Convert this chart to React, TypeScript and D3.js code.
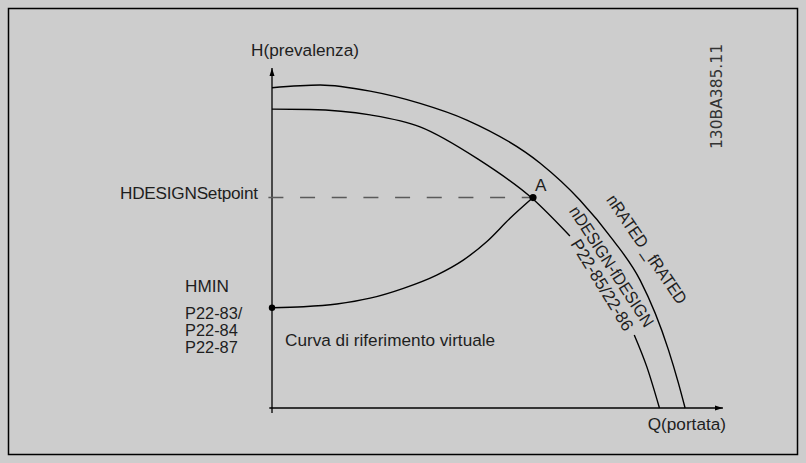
import { useEffect, useRef } from "react";
import * as d3 from "d3";

// pump curves, Q (flow) vs H (head) in % of axis length
const ratedQ = [0, 10.7, 21.8, 32.9, 43.3, 59.6, 68.4, 75.8, 81.8, 88.1, 90.3, 91.8];
const ratedH = [94.2, 95.0, 93.2, 89.6, 84.7, 72.0, 61.2, 49.4, 37.6, 17.1, 7.4, 0];

// design curve is interrupted where its label sits (null = gap)
const designQ = [0, 8.4, 21.8, 32.9, 45.8, 57.8, 66.2, 73, 80.5, 83.3, 86.1];
const designH = [87.9, 87.8, 86.2, 82.7, 73.2, 61.7, 50.6, null, 21.5, 12.1, 0];

const virtualQ = [0, 7, 14.4, 21.8, 29.2, 36.6, 42.5, 47.7, 52.9, 58];
const virtualH = [29.5, 29.8, 30.6, 32.3, 35.2, 39.1, 43.5, 48.9, 55.8, 61.9];

const pointA = { q: 58, h: 61.9 };
const pointHmin = { q: 0, h: 29.5 };

const hminLabels = ["HMIN", "", "P22-83/", "P22-84", "P22-87"];

const App = () => {
  const svgRef = useRef<SVGSVGElement>(null);

  useEffect(() => {
    const w = 806;
    const h = 463;
    const svg = d3.select(svgRef.current);
    svg.selectAll("*").remove();
    svg.attr("width", w).attr("height", h);

    const bg = "#cdcdcd";
    const ink = "#1e1e1e";
    const font = "'Liberation Sans', Arial, sans-serif";

    svg.append("rect").attr("width", w).attr("height", h).attr("fill", bg);
    svg.append("rect")
      .attr("x", 8.5).attr("y", 8.5)
      .attr("width", 789).attr("height", 446)
      .attr("fill", "none").attr("stroke", "#000").attr("stroke-width", 1.5);

    const x = d3.scaleLinear().domain([0, 100]).range([272, 722]);
    const y = d3.scaleLinear().domain([0, 100]).range([408, 68]);

    // axes with small arrow heads
    const defs = svg.append("defs");
    defs.append("marker")
      .attr("id", "arr")
      .attr("viewBox", "0 0 8 6")
      .attr("refX", 8).attr("refY", 3)
      .attr("markerWidth", 8).attr("markerHeight", 6)
      .attr("markerUnits", "userSpaceOnUse")
      .attr("orient", "auto")
      .append("path").attr("d", "M0,0.5L8,3L0,5.5Z").attr("fill", "#000");

    svg.append("line")
      .attr("x1", x(0)).attr("x2", x(0))
      .attr("y1", y(-1.5)).attr("y2", y(100))
      .attr("stroke", "#000").attr("stroke-width", 1.3)
      .attr("marker-end", "url(#arr)");
    svg.append("line")
      .attr("x1", x(-0.6)).attr("x2", x(100.2))
      .attr("y1", y(0)).attr("y2", y(0))
      .attr("stroke", "#000").attr("stroke-width", 1.3)
      .attr("marker-end", "url(#arr)");

    // dashed setpoint line
    svg.append("line")
      .attr("x1", x(-0.8)).attr("x2", x(pointA.q))
      .attr("y1", y(pointA.h)).attr("y2", y(pointA.h))
      .attr("stroke", "#5a5a5a").attr("stroke-width", 1.5)
      .attr("stroke-dasharray", "15,16.67");

    const line = d3.line<[number, number | null]>()
      .defined(d => d[1] !== null)
      .x(d => x(d[0]))
      .y(d => y(d[1] as number))
      .curve(d3.curveMonotoneX);

    const curves: [number, number | null][][] = [
      ratedQ.map((q, i) => [q, ratedH[i]]),
      designQ.map((q, i) => [q, designH[i]]),
      virtualQ.map((q, i) => [q, virtualH[i]]),
    ];
    svg.append("g")
      .selectAll("path")
      .data(curves)
      .join("path")
      .attr("d", d => line(d))
      .attr("fill", "none")
      .attr("stroke", "#000")
      .attr("stroke-width", 1.4);

    svg.append("g")
      .selectAll("circle")
      .data([pointA, pointHmin])
      .join("circle")
      .attr("cx", d => x(d.q))
      .attr("cy", d => y(d.h))
      .attr("r", (d, i) => (i === 0 ? 3.6 : 3.2))
      .attr("fill", "#000");

    const txt = (s: string, tx: number, ty: number, anchor = "start", size = 17.2) =>
      svg.append("text")
        .attr("x", tx).attr("y", ty)
        .attr("text-anchor", anchor)
        .attr("font-family", font)
        .attr("font-size", size)
        .attr("fill", ink)
        .text(s);

    txt("H(prevalenza)", x(0) + 33, 56, "middle");
    txt("HDESIGNSetpoint", x(0) - 14, y(pointA.h) + 1, "end").attr("textLength", 138);
    hminLabels.forEach((s, i) => {
      if (s) txt(s, 185, 291.7 + i * 16.6 - (i > 0 ? 5.6 : 0), "start", i > 0 ? 16.4 : 17.2);
    });
    txt("Curva di riferimento virtuale", x(0) + 13, 346);
    txt("A", x(pointA.q) + 2, y(pointA.h) - 7);
    txt("Q(portata)", 726, 430, "end");

    const rot = (s: string, q: number, hh: number, ang: number, len: number) =>
      svg.append("text")
        .attr("transform", `translate(${x(q)},${y(hh)}) rotate(${ang})`)
        .attr("text-anchor", "middle")
        .attr("dominant-baseline", "central")
        .attr("font-family", font)
        .attr("font-size", 17.2)
        .attr("fill", ink)
        .attr("textLength", len)
        .attr("lengthAdjust", "spacingAndGlyphs")
        .text(s);

    rot("nRATED _fRATED", 83.3, 46.7, 55.5, 128);
    rot("nDESIGN-fDESIGN", 75.5, 41.6, 57, 140);
    rot("P22-85/22-86", 73.4, 36.2, 58.5, 104);

    svg.append("text")
      .attr("transform", "translate(721.5,96.5) rotate(-90)")
      .attr("text-anchor", "middle")
      .attr("font-family", "'DejaVu Sans', sans-serif")
      .attr("font-size", 15.5)
      .attr("fill", "#333")
      .text("130BA385.11");
  }, []);

  return (
    <svg
      ref={svgRef}
      style={{ position: "absolute", left: 0, top: 0, display: "block" }}
    ></svg>
  );
};

export default App;
